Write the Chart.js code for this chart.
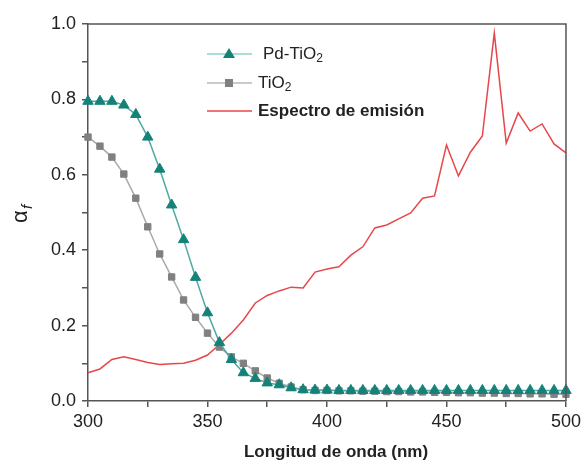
<!DOCTYPE html>
<html lang="es">
<head>
    <meta charset="UTF-8">
    <title>Absorción Pd-TiO2 / TiO2</title>
    <script src="https://cdn.jsdelivr.net/npm/chart.js"></script>
    <style>
        body { margin: 0; background: #fff; }
        .wrap { position: relative; width: 585px; height: 464px; }
    </style>
</head>
<body>
    <div class="wrap"><canvas id="chart" width="585" height="464"></canvas></div>

    <script>
        // Longitud de onda (nm)
        const wavelengths = [300, 305, 310, 315, 320, 325, 330, 335, 340, 345, 350, 355, 360, 365, 370,
            375, 380, 385, 390, 395, 400, 405, 410, 415, 420, 425, 430, 435, 440, 445, 450, 455, 460,
            465, 470, 475, 480, 485, 490, 495, 500];

        const pdTiO2 = [0.795, 0.795, 0.795, 0.785, 0.760, 0.700, 0.615, 0.520, 0.428, 0.328, 0.234,
            0.155, 0.110, 0.075, 0.060, 0.048, 0.043, 0.035, 0.030, 0.029, 0.029, 0.028, 0.028, 0.028,
            0.028, 0.028, 0.028, 0.028, 0.028, 0.028, 0.028, 0.028, 0.028, 0.028, 0.028, 0.028, 0.028,
            0.028, 0.028, 0.028, 0.028];

        const tiO2 = [0.700, 0.676, 0.647, 0.602, 0.538, 0.462, 0.390, 0.329, 0.268, 0.222, 0.180,
            0.143, 0.117, 0.100, 0.080, 0.061, 0.047, 0.037, 0.030, 0.028, 0.028, 0.027, 0.027, 0.026,
            0.026, 0.025, 0.025, 0.024, 0.024, 0.023, 0.023, 0.022, 0.022, 0.021, 0.021, 0.020, 0.020,
            0.019, 0.019, 0.018, 0.018];

        const emission = [0.075, 0.085, 0.110, 0.117, 0.110, 0.102, 0.097, 0.099, 0.100, 0.108, 0.122,
            0.150, 0.180, 0.215, 0.260, 0.280, 0.292, 0.302, 0.300, 0.342, 0.350, 0.356, 0.387, 0.409,
            0.459, 0.467, 0.483, 0.499, 0.538, 0.544, 0.679, 0.597, 0.660, 0.703, 0.976, 0.684, 0.764,
            0.716, 0.735, 0.682, 0.658];

        const xTicks = [300, 350, 400, 450, 500];
        const yTicks = [0.0, 0.2, 0.4, 0.6, 0.8, 1.0];

        const FONT = '"Liberation Sans", Arial, sans-serif';
        const AXIS = '#555';

        const pts = vals => vals.map((v, i) => ({ x: wavelengths[i], y: v }));

        // frame, legend and axis titles
        const decor = {
            id: 'decor',
            afterDraw(chart) {
                const { ctx, chartArea: a } = chart;
                ctx.save();
                ctx.strokeStyle = AXIS;
                ctx.lineWidth = 1.5;
                ctx.beginPath();
                ctx.moveTo(a.left, a.top);
                ctx.lineTo(a.right, a.top);
                ctx.lineTo(a.right, a.bottom);
                ctx.stroke();

                // x title
                ctx.fillStyle = '#222';
                ctx.font = 'bold 17px ' + FONT;
                ctx.textAlign = 'center';
                ctx.textBaseline = 'middle';
                ctx.fillText('Longitud de onda (nm)', 336, 452);

                // y title: alpha_f
                ctx.translate(20, 213);
                ctx.rotate(-Math.PI / 2);
                ctx.textBaseline = 'alphabetic';
                ctx.textAlign = 'left';
                ctx.font = '22px ' + FONT;
                ctx.fillText('α', -10, 7);
                ctx.font = 'italic 15px ' + FONT;
                ctx.fillText('f', 4, 12);
                ctx.restore();

                // legend
                ctx.save();
                const lx0 = 207, lx1 = 252, mx = 229;
                const rows = [
                    { y: 54, line: '#8fd0c8', mark: '#148279', shape: 'tri', label: 'Pd-TiO', sub: '2', tx: 263, bold: false },
                    { y: 83, line: '#b8b8b8', mark: '#808080', shape: 'sq', label: 'TiO', sub: '2', tx: 258, bold: false },
                    { y: 111, line: '#e8474a', mark: null, shape: null, label: 'Espectro de emisión', sub: '', tx: 258, bold: true }
                ];
                rows.forEach(r => {
                    ctx.strokeStyle = r.line;
                    ctx.lineWidth = 1.5;
                    ctx.beginPath();
                    ctx.moveTo(lx0, r.y);
                    ctx.lineTo(lx1, r.y);
                    ctx.stroke();
                    if (r.shape === 'tri') {
                        ctx.fillStyle = r.mark;
                        ctx.beginPath();
                        ctx.moveTo(mx, r.y - 6);
                        ctx.lineTo(mx + 6, r.y + 4);
                        ctx.lineTo(mx - 6, r.y + 4);
                        ctx.closePath();
                        ctx.fill();
                    } else if (r.shape === 'sq') {
                        ctx.fillStyle = r.mark;
                        ctx.fillRect(mx - 4, r.y - 4, 8, 8);
                    }
                    ctx.fillStyle = '#222';
                    ctx.textBaseline = 'middle';
                    ctx.textAlign = 'left';
                    ctx.font = (r.bold ? 'bold ' : '') + '17px ' + FONT;
                    ctx.fillText(r.label, r.tx, r.y);
                    if (r.sub) {
                        const w = ctx.measureText(r.label).width;
                        ctx.font = '12px ' + FONT;
                        ctx.fillText(r.sub, r.tx + w, r.y + 5);
                    }
                });
                ctx.restore();
            }
        };

        new Chart(document.getElementById('chart'), {
            type: 'line',
            data: {
                datasets: [
                    {
                        label: 'Pd-TiO2',
                        data: pts(pdTiO2),
                        borderColor: '#4fa9a1',
                        borderWidth: 1.5,
                        pointStyle: 'triangle',
                        pointRadius: 6,
                        pointBackgroundColor: '#148279',
                        pointBorderColor: '#148279',
                        pointBorderWidth: 1,
                        clip: false
                    },
                    {
                        label: 'TiO2',
                        data: pts(tiO2),
                        borderColor: '#aaaaaa',
                        borderWidth: 1.5,
                        pointStyle: 'rect',
                        pointRadius: 4.5,
                        pointBackgroundColor: '#808080',
                        pointBorderColor: '#808080',
                        pointBorderWidth: 1,
                        clip: false
                    },
                    {
                        label: 'Espectro de emisión',
                        data: pts(emission),
                        borderColor: '#e8474a',
                        borderWidth: 1.5,
                        pointRadius: 0,
                        clip: false
                    }
                ]
            },
            options: {
                responsive: false,
                animation: false,
                layout: { padding: { top: 24, right: 16, left: 0, bottom: 0 } },
                plugins: {
                    legend: { display: false },
                    tooltip: { enabled: false }
                },
                scales: {
                    x: {
                        type: 'linear',
                        min: 300,
                        max: 500,
                        afterFit: s => { s.height = 63; },
                        afterBuildTicks: s => {
                            s.ticks = [300, 325, 350, 375, 400, 425, 450, 475, 500].map(v => ({ value: v }));
                        },
                        ticks: {
                            autoSkip: false,
                            maxRotation: 0,
                            padding: 4,
                            color: '#222',
                            font: { family: FONT, size: 18 },
                            callback: v => xTicks.includes(v) ? String(v) : ''
                        },
                        grid: { drawOnChartArea: false, drawTicks: true, tickLength: 6, color: AXIS, lineWidth: 1.5 },
                        border: { display: true, color: AXIS, width: 1.5 }
                    },
                    y: {
                        min: 0,
                        max: 1,
                        afterFit: s => { s.width = 88; },
                        afterBuildTicks: s => {
                            s.ticks = [0, 0.1, 0.2, 0.3, 0.4, 0.5, 0.6, 0.7, 0.8, 0.9, 1.0].map(v => ({ value: v }));
                        },
                        ticks: {
                            padding: 6,
                            color: '#222',
                            font: { family: FONT, size: 18 },
                            callback: v => yTicks.some(t => Math.abs(t - v) < 1e-6) ? v.toFixed(1) : ''
                        },
                        grid: { drawOnChartArea: false, drawTicks: true, tickLength: 6, color: AXIS, lineWidth: 1.5 },
                        border: { display: true, color: AXIS, width: 1.5 }
                    }
                }
            },
            plugins: [decor]
        });
    </script>
</body>
</html>
